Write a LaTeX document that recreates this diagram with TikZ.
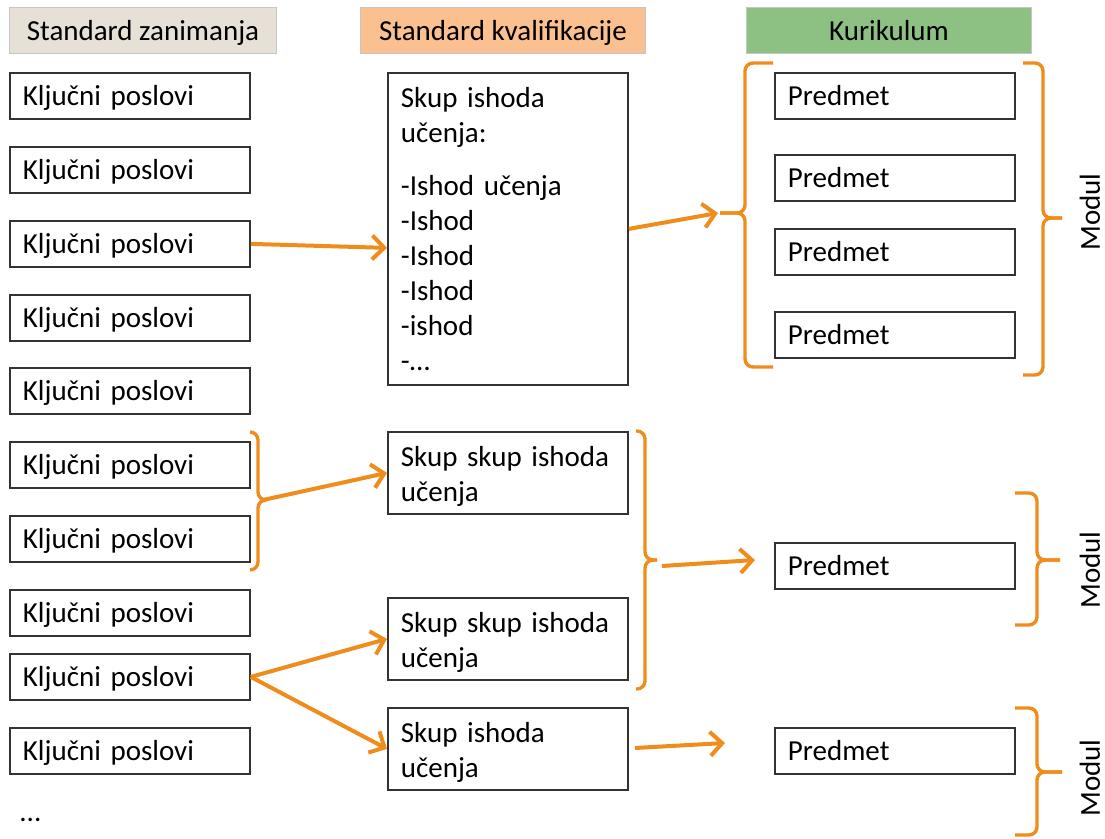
\documentclass[tikz,border=0pt]{standalone}
\usepackage{fontspec}
\setmainfont{Carlito}
\usetikzlibrary{arrows.meta}
\definecolor{hdrbeige}{RGB}{230,224,214}
\definecolor{hdrorange}{RGB}{251,192,143}
\definecolor{hdrgreen}{RGB}{141,193,131}
\definecolor{arrorange}{RGB}{240,140,28}

\begin{document}
\begin{tikzpicture}[x=0.5pt,y=-0.5pt,
    every node/.style={font=\fontsize{14.5}{17.5}\selectfont},
    hdr/.style={draw=gray!45, line width=0.5pt, anchor=north west, minimum height=23pt, inner sep=0pt, text depth=0pt},
    box/.style={draw=black!80, line width=0.9pt, anchor=north west, minimum width=120pt, minimum height=23pt,
        text width=107pt, align=left, inner xsep=6.5pt, inner ysep=0pt, text height=13.5pt},
    onebox/.style={box, text depth=3.5pt},
    brc/.style={draw=arrorange, line width=1.7pt, rounded corners=4pt},
    arr/.style={draw=arrorange, line width=2pt, -{Straight Barb[length=6pt,width=12pt]}}]
    \useasboundingbox (0,0) rectangle (1105,839);
    % headers
    \node[hdr, fill=hdrbeige, minimum width=133.5pt] (hz) at (9,7) {Standard zanimanja};
    \node[hdr, fill=hdrorange, minimum width=142.5pt] (hk) at (360,7) {Standard kvalifikacije};
    \node[hdr, fill=hdrgreen, minimum width=142.5pt] (hc) at (746,7) {Kurikulum};
    % standard zanimanja
    \foreach \y [count=\i] in {72,146,220,294,367,441,515,589,653,727}
        \node[onebox] (l\i) at (9,\y) {Ključni poslovi};
    \node[anchor=west, inner sep=0pt] (dots) at (19,820) {...};
    % standard kvalifikacije
    \node[box, minimum height=156pt, text height=10pt] (isk) at (387,72) {Skup ishoda\\učenja:\\[9pt]-Ishod učenja\\-Ishod\\-Ishod\\-Ishod\\-ishod\\-…};
    \node[box, minimum height=41pt] (sk1) at (387,431) {Skup skup ishoda\\učenja};
    \node[box, minimum height=41pt] (sk2) at (387,597) {Skup skup ishoda\\učenja};
    \node[box, minimum height=41pt] (sk3) at (387,707) {Skup ishoda\\učenja};
    % kurikulum
    \foreach \y [count=\i] in {72,154,228,311,542,727}
        \node[onebox] (p\i) at (774,\y) {Predmet};
    \node[rotate=90, inner sep=0pt] (m1) at (1090,212) {Modul};
    \node[rotate=90, inner sep=0pt] (m2) at (1090,570) {Modul};
    \node[rotate=90, inner sep=0pt] (m3) at (1090,778) {Modul};
    % braces
    \draw[brc] (250,432) -| (258,500) -- (266,500);
    \draw[brc] (250,570) -| (258,500) -- (266,500);
    \draw[brc] (636,431) -| (645,560) -- (657,560);
    \draw[brc] (636,689) -| (645,560) -- (657,560);
    \draw[brc] (773,63) -| (745,213) -- (720,213);
    \draw[brc] (773,367) -| (745,213) -- (720,213);
    \draw[brc] (1023,63) -| (1043,218) -- (1062,218);
    \draw[brc] (1023,375) -| (1043,218) -- (1062,218);
    \draw[brc] (1015,493) -| (1037,560) -- (1060,560);
    \draw[brc] (1015,625) -| (1037,560) -- (1060,560);
    \draw[brc] (1015,708) -| (1037,772) -- (1062,772);
    \draw[brc] (1015,835) -| (1037,772) -- (1062,772);
    \coordinate (t1) at (718,213);
    \coordinate (t2) at (263,500);
    \coordinate (t3) at (662,566);
    \coordinate (e3) at (755,560);
    \coordinate (s4) at (635,748);
    \coordinate (e4) at (725,743);
    % arrows
    \draw[arr] (l3.east) -- ([yshift=-9.5pt]isk.west);
    \draw[arr] (isk.east) -- (t1);
    \draw[arr] (t2) -- (sk1.west);
    \draw[arr] (l9.east) -- (sk2.west);
    \draw[arr] (l9.east) -- (sk3.west);
    \draw[arr] (t3) -- (e3);
    \draw[arr] (s4) -- (e4);
\end{tikzpicture}
\end{document}
